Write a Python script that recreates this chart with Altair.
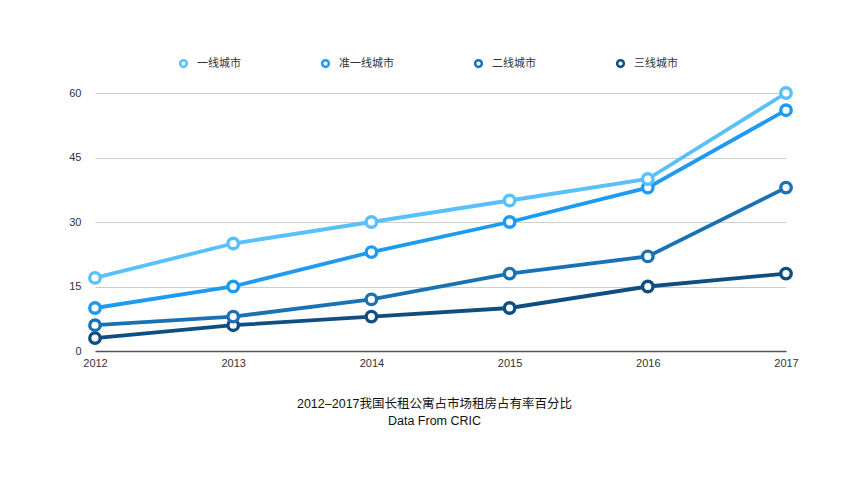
import altair as alt
import pandas as pd

years = [2012, 2013, 2014, 2015, 2016, 2017]
series_names = ["一线城市", "准一线城市", "二线城市", "三线城市"]
tier1 = [17, 25, 30, 35, 40, 60]
tier1_quasi = [10, 15, 23, 30, 38, 56]
tier2 = [6, 8, 12, 18, 22, 38]
tier3 = [3, 6, 8, 10, 15, 18]
colors = ["#5ac0fa", "#1e9bf0", "#1a72b3", "#114e80"]

rows = []
for name, vals in zip(series_names, [tier1, tier1_quasi, tier2, tier3]):
    for y, v in zip(years, vals):
        rows.append({"year": y, "value": v, "series": name, "order": series_names.index(name)})
df = pd.DataFrame(rows)

FONT = "Liberation Sans, Noto Sans CJK SC"

chart = alt.Chart(df).mark_line(
    strokeWidth=3.8,
    point=alt.OverlayMarkDef(filled=False, fill="white", size=110, strokeWidth=3.4, opacity=1),
).encode(
    x=alt.X("year:Q", scale=alt.Scale(domain=[2012, 2017], nice=False, zero=False),
            axis=alt.Axis(values=years, format="d", title=None, grid=False, ticks=False,
                          domainColor="#555555", domainWidth=1.5, labelColor="#333333",
                          labelFontSize=11, labelPadding=6, labelFont=FONT,
                          labelFlush=False)),
    y=alt.Y("value:Q", scale=alt.Scale(domain=[0, 60], nice=False),
            axis=alt.Axis(values=[0, 15, 30, 45, 60], title=None, domain=False, ticks=False,
                          gridColor="#cccccc", gridWidth=1, labelColor="#333333",
                          labelFontSize=11, labelPadding=14, labelFont=FONT)),
    color=alt.Color("series:N", scale=alt.Scale(domain=series_names, range=colors),
                    legend=alt.Legend(title=None, orient="none", direction="horizontal",
                                      legendX=83, legendY=-35, columnPadding=76,
                                      symbolType="circle", symbolFillColor="white",
                                      symbolStrokeWidth=2.5, symbolSize=45,
                                      labelFont=FONT, labelFontSize=11, labelColor="#333333",
                                      labelOffset=8)),
    order=alt.Order("order:Q", sort="descending"),
).properties(
    width=691,
    height=258,
    background="white",
    autosize=alt.AutoSizeParams(type="none"),
    padding={"left": 95, "top": 93, "right": 78, "bottom": 147},
    title=alt.TitleParams(
        text="2012–2017我国长租公寓占市场租房占有率百分比",
        subtitle="Data From CRIC",
        orient="bottom", anchor="middle", offset=30, dx=-6,
        font=FONT, fontSize=12.5, fontWeight="normal", color="#111111",
        subtitleFont=FONT, subtitleFontSize=12.5, subtitleColor="#111111", subtitlePadding=4,
    ),
).configure_view(stroke=None)

chart.save("out.html", embed_options={"renderer": "svg", "actions": False})
